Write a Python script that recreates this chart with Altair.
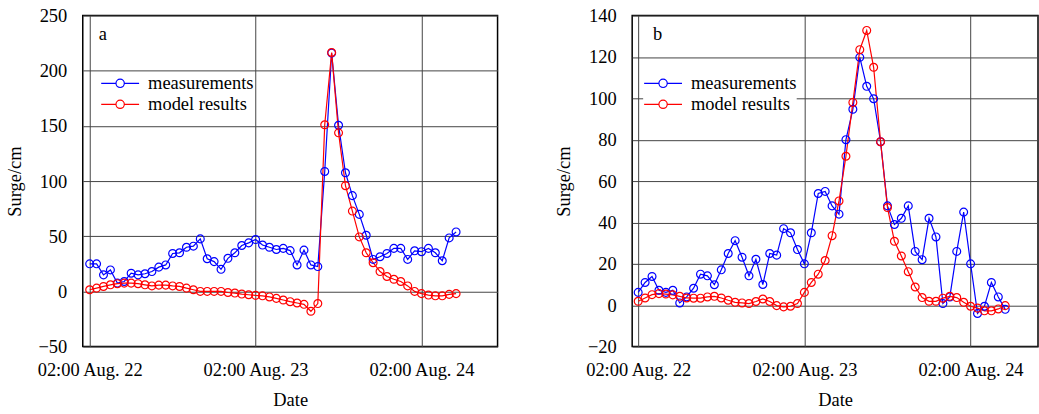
import altair as alt
import pandas as pd

FONT = "Liberation Serif, Times New Roman, DejaVu Serif, serif"
FS = 18.5

series_names = ["measurements", "model results"]
series_colors = ["#0000ff", "#ff0000"]

start_time = "2012-08-22 02:00"
n_hours = 54

# Panel a
a_meas = [25, 25, 15, 19.5, 7.5, 9, 16.5, 15, 16, 18, 22, 24, 34.4, 35, 40, 41,
          47.6, 29.6, 27, 20, 30, 35, 41.6, 44, 47, 42, 40, 38, 39, 37, 24, 37.4,
          24, 22.5, 108.7, 216, 150.6, 107.5, 86.8, 69.8, 50.9, 29, 31.4, 34.4,
          39, 39, 29, 36.8, 36, 39, 35, 27.8, 48.5, 53.9]
a_model = [1.5, 3, 4.5, 6, 7, 7.5, 7.5, 7, 6, 5, 5.7, 5.7, 5, 4.5, 3, 1.5,
           0, 0, 0, 0, -1, -1.5, -2.4, -3, -3.6, -4, -5, -6.3, -7.8, -9.3, -10.5,
           -11.7, -18, -11, 151, 216.5, 143.7, 95.8, 72.8, 49.4, 35, 26, 18,
           13.5, 11, 9, 5, 0, -2, -3.3, -4, -4, -2.7, -2]

# Panel b
b_meas = [6.2, 11, 13.9, 7.2, 6.2, 7.2, 1.1, 4, 8.2, 15, 14.2, 9.9, 17.1, 25,
          31.2, 23.2, 14.2, 22.2, 10, 25, 24.2, 37, 35, 26.9, 20, 35, 54, 55,
          48, 44, 80, 94.7, 119.8, 105.8, 99.8, 79, 48, 39, 42, 48, 26, 22, 42,
          33, 0.8, 4, 26, 45, 20, -4, -0.5, 11, 4, -2]
b_model = [1.9, 3.5, 5.1, 5.6, 5.4, 5, 4.3, 3.5, 3.4, 3.4, 4, 4.3, 3.5, 2.4,
           1.4, 1.1, 0.8, 1.8, 3, 1.8, -0.2, -0.8, -0.5, 0.8, 6.2, 11, 15, 21.6,
           33.6, 50.4, 72, 98, 123.5, 132.8, 115, 79, 47.2, 30.9, 23.8, 16.2,
           8.8, 3.7, 1.9, 1.9, 3.4, 4.3, 3.7, 1.4, -0.5, -1.4, -2.7, -2.7, -1.8,
           -0.2]

a_yticks = [-50, 0, 50, 100, 150, 200, 250]
b_yticks = [-20, 0, 20, 40, 60, 80, 100, 120, 140]
x_tick_days = [22, 23, 24]

times = pd.date_range(start_time, periods=n_hours, freq="h")

SYM = ("M-1,0H-0.22M0.22,0H1"
       "M0.22,0A0.22,0.22,0,1,1,-0.22,0A0.22,0.22,0,1,1,0.22,0")


def make_df(meas, model):
    rows = []
    for name, vals in zip(series_names, [meas, model]):
        for t, v in zip(times, vals):
            rows.append({"time": t, "value": v, "series": name})
    return pd.DataFrame(rows)


def dt(day, h, m=0):
    return alt.DateTime(year=2012, month=8, date=day, hours=h, minutes=m)


def panel(meas, model, letter, yticks, xdom, width, legend_x, letter_dx):
    df = make_df(meas, model)
    return alt.Chart(df).mark_line(
        strokeWidth=1.2,
        point=alt.OverlayMarkDef(filled=False, size=62, strokeWidth=1.2),
    ).encode(
        x=alt.X(
            "time:T",
            scale=alt.Scale(domain=xdom),
            axis=alt.Axis(
                values=[dt(d, 2) for d in x_tick_days],
                labelExpr="timeFormat(datum.value, '%H:%M Aug. %d')",
                title="Date",
            ),
        ),
        y=alt.Y(
            "value:Q",
            scale=alt.Scale(domain=[yticks[0], yticks[-1]], nice=False, zero=False),
            axis=alt.Axis(values=yticks, title="Surge/cm"),
        ),
        color=alt.Color(
            "series:N",
            scale=alt.Scale(domain=series_names, range=series_colors),
            legend=alt.Legend(
                title=None,
                orient="none",
                legendX=legend_x,
                legendY=58,
                symbolType=SYM,
                symbolSize=1444,
                symbolStrokeWidth=1.2,
                clipHeight=20,
                rowPadding=1,
                labelOffset=8,
                fillColor="white",
                padding=0,
                labelFont=FONT,
                labelFontSize=FS,
                labelColor="black",
            ),
        ),
    ).properties(
        width=width,
        height=332,
        title=alt.TitleParams(
            letter, anchor="start", frame="group", offset=0, dx=letter_dx,
            dy=52, baseline="alphabetic", font=FONT, fontSize=FS,
            fontWeight="normal", color="black",
        ),
    )


chart_a = panel(a_meas, a_model, "a", a_yticks, [dt(22, 1), dt(24, 13)], 416, 17.5, 16)
chart_b = panel(b_meas, b_model, "b", b_yticks, [dt(22, 1, 8), dt(24, 11, 44)], 407, 11, 21)

chart = alt.hconcat(chart_a, chart_b, spacing=135, bounds="flush").resolve_scale(
    color="independent"
).resolve_legend(
    color="independent"
).properties(
    padding={"left": 4, "top": 5, "right": 0, "bottom": 0}
).configure_view(
    stroke="black", strokeWidth=1.5
).configure_axis(
    grid=True, gridColor="#444444", gridWidth=1, ticks=False, domain=False,
    labelFont=FONT, labelFontSize=FS, labelColor="black",
    titleFont=FONT, titleFontSize=FS, titleFontWeight="normal", titleColor="black",
).configure_axisY(
    labelPadding=16, titlePadding=14,
).configure_axisX(
    labelPadding=14, titlePadding=12,
)

chart.save("out.html", embed_options={"renderer": "svg", "actions": False})
